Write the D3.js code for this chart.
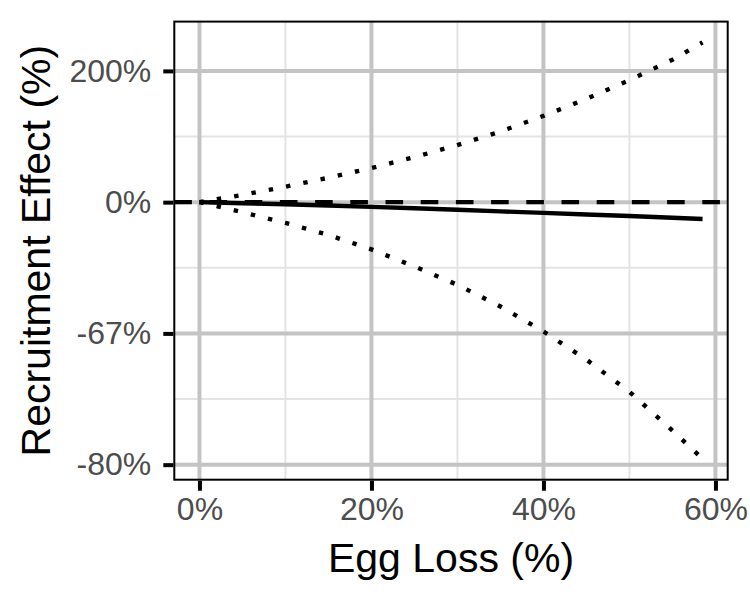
<!DOCTYPE html>
<html>
<head>
<meta charset="utf-8">
<script src="https://cdn.jsdelivr.net/npm/d3@7/dist/d3.min.js"></script>
<style>
  html, body { margin: 0; padding: 0; background: #fff; }
  svg { display: block; font-family: "Liberation Sans", Arial, sans-serif; }
</style>
</head>
<body>
<svg id="chart" width="750" height="600"></svg>
<script>
// ---- data (y in log-ratio units: 1 unit = one tick step) ----
const eggLoss   = [0, 5, 10, 15, 20, 25, 30, 35, 40, 45, 50, 55, 58.5];
const central   = [0, -0.008, -0.016, -0.026, -0.036, -0.047, -0.058, -0.07, -0.082, -0.094, -0.106, -0.119, -0.128];
const upper     = [0, 0.055, 0.118, 0.186, 0.26, 0.343, 0.435, 0.538, 0.657, 0.787, 0.93, 1.085, 1.217];
const lower     = [0, -0.077, -0.158, -0.25, -0.36, -0.49, -0.63, -0.795, -0.985, -1.20, -1.445, -1.74, -1.956];

const xTicks       = [0, 20, 40, 60];
const xTickLabels  = ["0%", "20%", "40%", "60%"];
const xMinor       = [10, 30, 50];
const yTicks       = [1, 0, -1, -2];
const yTickLabels  = ["200%", "0%", "-67%", "-80%"];
const yMinor       = [0.5, -0.5, -1.5];
const refLine      = 0;

const xTitle = "Egg Loss (%)";
const yTitle = "Recruitment Effect (%)";

// ---- layout ----
const panel = { left: 174.3, right: 727.7, top: 21.6, bottom: 479.7 };
const svg = d3.select("#chart");

const xDataMin = d3.min(eggLoss), xDataMax = d3.max(eggLoss);
const xPad = (xDataMax - xDataMin) * 0.05;
const x = d3.scaleLinear().domain([xDataMin - xPad, xDataMax + xPad]).range([panel.left, panel.right]);

const yAll = central.concat(upper, lower);
const yMin = d3.min(yAll), yMax = d3.max(yAll);
const yPad = (yMax - yMin) * 0.05;
const y = d3.scaleLinear().domain([yMin - yPad, yMax + yPad]).range([panel.bottom, panel.top]);

const g = svg.append("g");

// background
g.append("rect").attr("x", panel.left).attr("y", panel.top)
  .attr("width", panel.right - panel.left).attr("height", panel.bottom - panel.top)
  .attr("fill", "#fff");

// minor gridlines
g.selectAll(".xminor").data(xMinor).enter().append("line")
  .attr("x1", d => x(d)).attr("x2", d => x(d)).attr("y1", panel.top).attr("y2", panel.bottom)
  .attr("stroke", "#E4E4E4").attr("stroke-width", 2);
g.selectAll(".yminor").data(yMinor).enter().append("line")
  .attr("y1", d => y(d)).attr("y2", d => y(d)).attr("x1", panel.left).attr("x2", panel.right)
  .attr("stroke", "#E4E4E4").attr("stroke-width", 2);

// major gridlines
g.selectAll(".xmajor").data(xTicks).enter().append("line")
  .attr("x1", d => x(d)).attr("x2", d => x(d)).attr("y1", panel.top).attr("y2", panel.bottom)
  .attr("stroke", "#C4C4C4").attr("stroke-width", 4);
g.selectAll(".ymajor").data(yTicks).enter().append("line")
  .attr("y1", d => y(d)).attr("y2", d => y(d)).attr("x1", panel.left).attr("x2", panel.right)
  .attr("stroke", "#C4C4C4").attr("stroke-width", 4);

const lw = 4.4;
const line = d3.line().x(d => x(d[0])).y(d => y(d[1]));

// central (solid)
g.append("path").datum(eggLoss.map((v, i) => [v, central[i]]))
  .attr("d", line).attr("fill", "none").attr("stroke", "#000").attr("stroke-width", lw);

// bounds (dotted)
[upper, lower].forEach(arr => {
  g.append("path").datum(eggLoss.map((v, i) => [v, arr[i]]))
    .attr("d", line).attr("fill", "none").attr("stroke", "#000").attr("stroke-width", lw)
    .attr("stroke-dasharray", `${lw},${lw * 3}`);
});

// reference dashed line
g.append("line").attr("x1", panel.left).attr("x2", panel.right)
  .attr("y1", y(refLine)).attr("y2", y(refLine))
  .attr("stroke", "#000").attr("stroke-width", lw)
  .attr("stroke-dasharray", `${lw * 4},${lw * 4}`);

// panel border
g.append("rect").attr("x", panel.left).attr("y", panel.top)
  .attr("width", panel.right - panel.left).attr("height", panel.bottom - panel.top)
  .attr("fill", "none").attr("stroke", "#000").attr("stroke-width", 2);

// axes
const xAxis = d3.axisBottom(x).tickValues(xTicks).tickFormat((d, i) => xTickLabels[i])
  .tickSizeInner(10).tickSizeOuter(0).tickPadding(7);
const gx = svg.append("g").attr("transform", `translate(0,${panel.bottom + 1})`).call(xAxis);
gx.select(".domain").remove();
gx.selectAll(".tick line").attr("stroke", "#000").attr("stroke-width", 4);
gx.selectAll(".tick text").attr("fill", "#4D4D4D").attr("font-size", 32)
  .attr("font-family", "Liberation Sans, Arial, sans-serif");

const yAxis = d3.axisLeft(y).tickValues(yTicks).tickFormat((d, i) => yTickLabels[i])
  .tickSizeInner(10).tickSizeOuter(0).tickPadding(12);
const gy = svg.append("g").attr("transform", `translate(${panel.left - 1},0)`).call(yAxis);
gy.select(".domain").remove();
gy.selectAll(".tick line").attr("stroke", "#000").attr("stroke-width", 4);
gy.selectAll(".tick text").attr("fill", "#4D4D4D").attr("font-size", 32)
  .attr("font-family", "Liberation Sans, Arial, sans-serif");

// titles
svg.append("text").attr("x", (panel.left + panel.right) / 2).attr("y", 572)
  .attr("text-anchor", "middle").attr("font-size", 41).attr("fill", "#000").text(xTitle);
svg.append("text")
  .attr("transform", `translate(50,${(panel.top + panel.bottom) / 2}) rotate(-90)`)
  .attr("text-anchor", "middle").attr("font-size", 41).attr("fill", "#000").text(yTitle);
</script>
</body>
</html>
